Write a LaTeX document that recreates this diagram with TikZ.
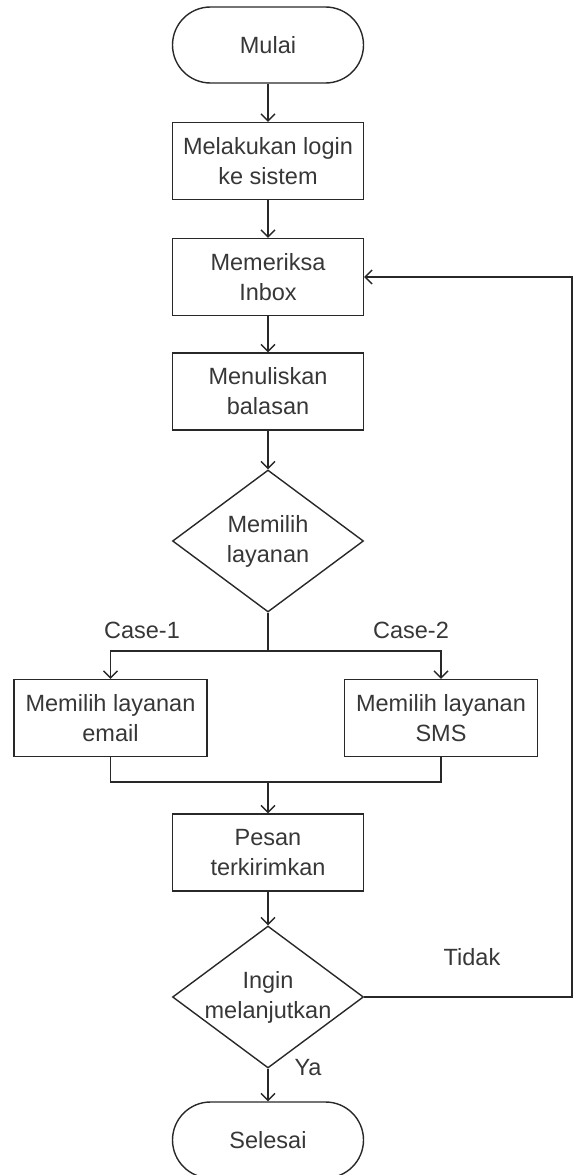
\documentclass[tikz,border=0pt]{standalone}
\usepackage{fontspec}
\setmainfont{Liberation Sans}
\usetikzlibrary{arrows.meta,shapes.geometric}
\definecolor{ln}{RGB}{40,40,40}
\definecolor{tx}{RGB}{55,55,55}
\begin{document}
\begin{tikzpicture}[x=1pt,y=-1pt,
 every node/.style={font=\fontsize{23.5}{30}\selectfont, text=tx},
 proc/.style={draw=ln, line width=1.4pt, minimum width=191pt, minimum height=77pt, align=center, inner sep=0pt},
 term/.style={draw=ln, line width=1.4pt, rounded corners=38pt, minimum width=191pt, minimum height=76pt, inner sep=0pt},
 dec/.style={draw=ln, line width=1.4pt, shape=diamond, minimum width=191pt, minimum height=142pt, inner sep=0pt},
 lbl/.style={align=center, inner sep=0pt},
 flow/.style={draw=ln, line width=1.4pt, -{Straight Barb[length=7pt,width=14pt]}},
 link/.style={draw=ln, line width=1.4pt}]
\useasboundingbox (0,0) rectangle (574,1175);

\node[term] (m) at (268,45) {Mulai};
\node[proc] (b1) at (268,161) {Melakukan login\\ke sistem};
\node[proc] (b2) at (268,277) {Memeriksa\\Inbox};
\node[proc] (b3) at (268,391.5) {Menuliskan\\balasan};
\node[dec] (d1) at (268,541) {};
\node[lbl] (d1t) at (268,541) {Memilih\\layanan};
\node[proc, minimum width=193pt] (e) at (110.5,718) {Memilih layanan\\email};
\node[proc, minimum width=193pt] (s) at (441,718) {Memilih layanan\\SMS};
\node[proc] (b4) at (268,852.5) {Pesan\\terkirimkan};
\node[dec] (d2) at (268,997) {};
\node[lbl] (d2t) at (268,997) {Ingin\\melanjutkan};
\node[term] (sel) at (268,1140) {Selesai};

\node[lbl] (c1) at (142,630) {Case-1};
\node[lbl] (c2) at (411,630) {Case-2};
\node[lbl] (td) at (472,957) {Tidak};
\node[lbl] (ya) at (308,1068) {Ya};

\coordinate (j1) at (268,651);
\coordinate (j2) at (268,782);
\coordinate (r1) at (572,997);
\coordinate (r2) at (572,277);

\draw[flow] (m) -- (b1);
\draw[flow] (b1) -- (b2);
\draw[flow] (b2) -- (b3);
\draw[flow] (b3) -- (d1);
\draw[link] (d1.south) -- (j1);
\draw[flow] (j1) -| (e.north);
\draw[flow] (j1) -| (s.north);
\draw[link] (e.south) |- (j2);
\draw[link] (s.south) |- (j2);
\draw[flow] (j2) -- (b4);
\draw[flow] (b4) -- (d2);
\draw[flow] (d2) -- (sel);
\draw[flow] (d2.east) -- (r1) -- (r2) -- (b2.east);
\end{tikzpicture}
\end{document}
